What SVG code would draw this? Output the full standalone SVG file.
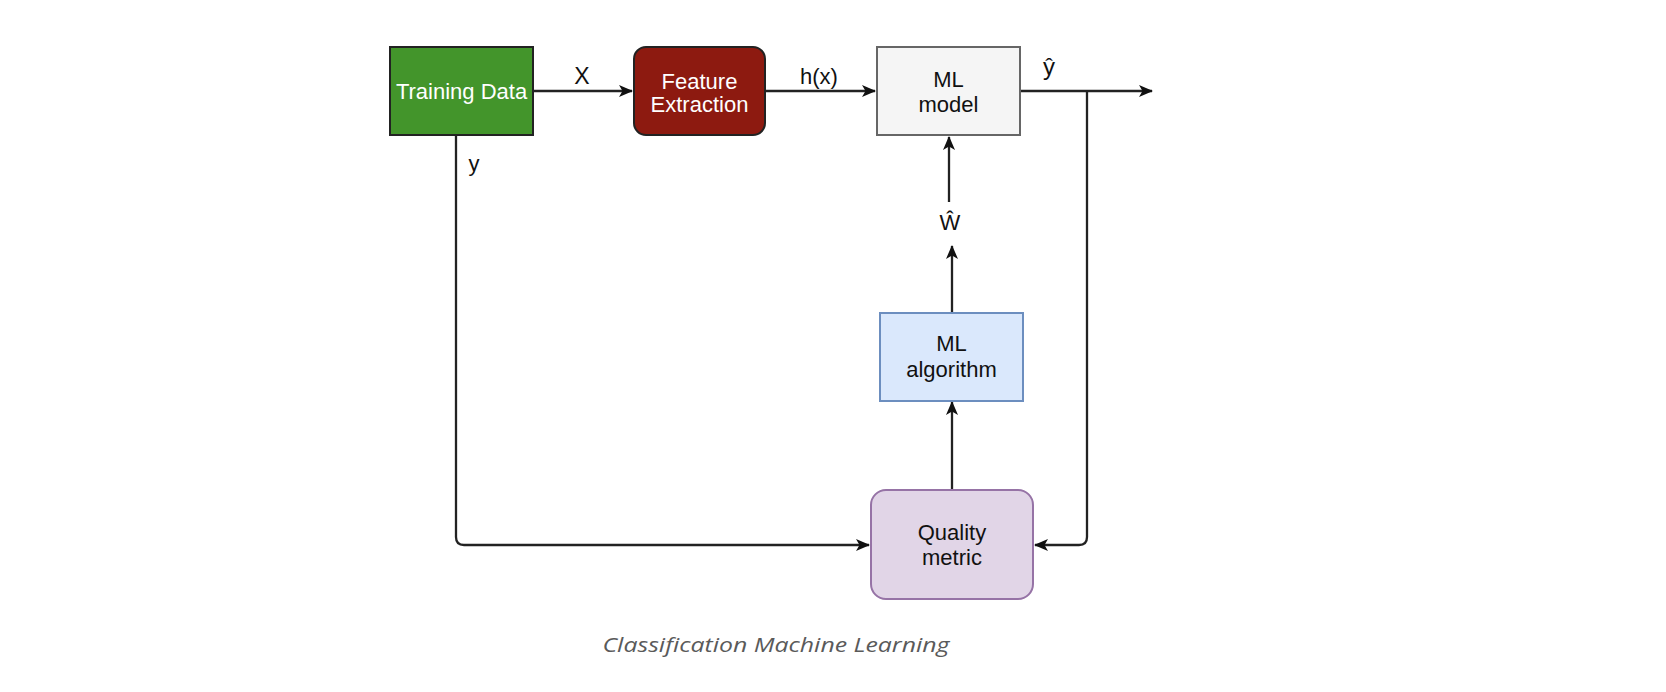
<svg xmlns="http://www.w3.org/2000/svg" width="1666" height="692" viewBox="0 0 1666 692">
<defs>
<marker id="arr" viewBox="0 0 14 12" refX="13" refY="6" markerWidth="14" markerHeight="12" markerUnits="userSpaceOnUse" orient="auto">
<path d="M0,0 L14,6 L0,12 L3.5,6 Z" fill="#111"/>
</marker>
</defs>
<style>
.lbl{font-family:"Liberation Sans",Arial,sans-serif;font-size:22px;fill:#111;text-anchor:middle;dominant-baseline:central}
.wt{fill:#fff}
.conn{fill:none;stroke:#222;stroke-width:2.3}
.cap{font-family:"Open Sans","Noto Sans",sans-serif;font-style:italic;font-size:20px;fill:#5a5a5a;text-anchor:middle}
</style>
<rect width="1666" height="692" fill="#fff"/>
<g id="connectors">
<path class="conn" d="M534,91 H632" marker-end="url(#arr)"/>
<path class="conn" d="M766,91 H875" marker-end="url(#arr)"/>
<path class="conn" d="M1021,91 H1152" marker-end="url(#arr)"/>
<path class="conn" d="M1087,91 V537 Q1087,545 1079,545 H1035" marker-end="url(#arr)"/>
<path class="conn" d="M456,136 V537 Q456,545 464,545 H869" marker-end="url(#arr)"/>
<path class="conn" d="M952,489 V402" marker-end="url(#arr)"/>
<path class="conn" d="M952,312 V246" marker-end="url(#arr)"/>
<path class="conn" d="M949,202 V137" marker-end="url(#arr)"/>
<text class="lbl" x="582" y="76" style="font-size:23px">X</text>
<text class="lbl" x="819" y="76">h(x)</text>
<text class="lbl" x="1049" y="66" style="font-size:24px">ŷ</text>
<text class="lbl" x="474" y="163">y</text>
<text class="lbl" x="950" y="222">Ŵ</text>
</g>
<g id="training-data">
<rect x="390" y="47" width="143" height="88" fill="#43952b" stroke="#222" stroke-width="2"/>
<text class="lbl wt" x="461.5" y="91">Training Data</text>
</g>
<g id="feature-extraction">
<rect x="634" y="47" width="131" height="88" rx="12" fill="#8d1a10" stroke="#222" stroke-width="2"/>
<text class="lbl wt" x="699.5" y="81">Feature</text>
<text class="lbl wt" x="699.5" y="104">Extraction</text>
</g>
<g id="ml-model">
<rect x="877" y="47" width="143" height="88" fill="#f5f5f5" stroke="#666" stroke-width="2"/>
<text class="lbl" x="948.5" y="79">ML</text>
<text class="lbl" x="948.5" y="104">model</text>
</g>
<g id="ml-algorithm">
<rect x="880" y="313" width="143" height="88" fill="#dae8fc" stroke="#6c8ebf" stroke-width="2"/>
<text class="lbl" x="951.5" y="343">ML</text>
<text class="lbl" x="951.5" y="369">algorithm</text>
</g>
<g id="quality-metric">
<rect x="871" y="490" width="162" height="109" rx="15" fill="#e1d5e7" stroke="#9673a6" stroke-width="2"/>
<text class="lbl" x="952" y="532">Quality</text>
<text class="lbl" x="952" y="557">metric</text>
</g>
<text class="cap" x="776" y="652" textLength="347" lengthAdjust="spacingAndGlyphs">Classification Machine Learning</text>
</svg>
